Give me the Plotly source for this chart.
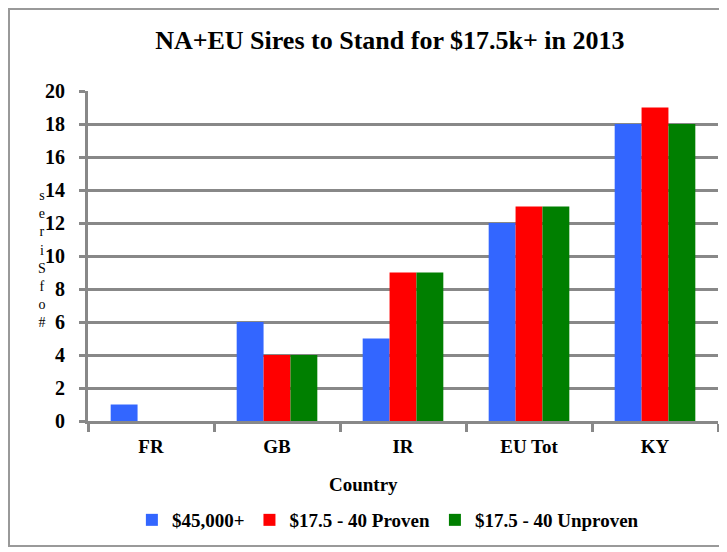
import plotly.graph_objects as go

countries = ["FR", "GB", "IR", "EU Tot", "KY"]
top_tier = [1, 6, 5, 12, 18]
mid_proven = [0, 4, 9, 13, 19]
mid_unproven = [0, 4, 9, 13, 18]

series = [
  ("$45,000+", top_tier, "#3366ff"),
  ("$17.5 - 40 Proven", mid_proven, "#ff0000"),
  ("$17.5 - 40 Unproven", mid_unproven, "#007f00"),
]

serif = "Liberation Serif, Times New Roman, serif"

fig = go.Figure()
for name, vals, color in series:
  fig.add_trace(go.Bar(x=countries, y=vals, name="<b>" + name + "</b>",
                       marker=dict(color=color, line=dict(width=0))))

# page body has an 8px margin, so the figure is a bit smaller than the window
fig.update_layout(
  width=719, height=544,
  margin=dict(l=80, r=9, t=83, b=131),
  paper_bgcolor="white", plot_bgcolor="white",
  barmode="group", bargap=0.36, bargroupgap=0,
  font=dict(family=serif, color="black", size=19),
  title=dict(text="<b>NA+EU Sires to Stand for $17.5k+ in 2013</b>", x=0.531, xanchor="center",
             y=0.941, yanchor="middle", font=dict(size=26, family=serif)),
  showlegend=True,
  legend=dict(orientation="h", x=0.476, xanchor="center", y=-0.30, yanchor="middle",
              font=dict(size=19, family=serif), itemwidth=30, traceorder="normal"),
  xaxis=dict(
    tickfont=dict(size=19), tickprefix="<b>", ticksuffix="</b>",
    showline=True, linecolor="#888888", linewidth=3,
    ticks="outside", ticklen=8, tickwidth=3, tickcolor="#888888", tickson="boundaries",
    ticklabelstandoff=6, showgrid=False,
  ),
  yaxis=dict(
    range=[0, 20], dtick=2,
    tickfont=dict(size=20), tickprefix="<b>", ticksuffix="</b>",
    showline=True, linecolor="#888888", linewidth=3,
    ticks="outside", ticklen=6, tickwidth=3, tickcolor="#888888", ticklabelstandoff=10,
    showgrid=True, gridcolor="#888888", gridwidth=3,
    zeroline=False,
  ),
  shapes=[dict(type="rect", xref="paper", yref="paper", x0=-0.1254, x1=1.0063, y0=-0.3788, y1=1.2485,
               line=dict(color="#999999", width=2))],
  annotations=[
    dict(text="<b>Country</b>", xref="paper", yref="paper", x=0.437, y=-0.191,
         xanchor="center", yanchor="middle", showarrow=False, font=dict(size=19, family=serif)),
    dict(text="s<br>e<br>r<br>i<br>S<br>f<br>o<br>#", xref="paper", yref="paper", x=-0.073, y=0.49,
         xanchor="center", yanchor="middle", showarrow=False,
         font=dict(size=14, family=serif)),
  ],
)

fig.write_html("out.html")
